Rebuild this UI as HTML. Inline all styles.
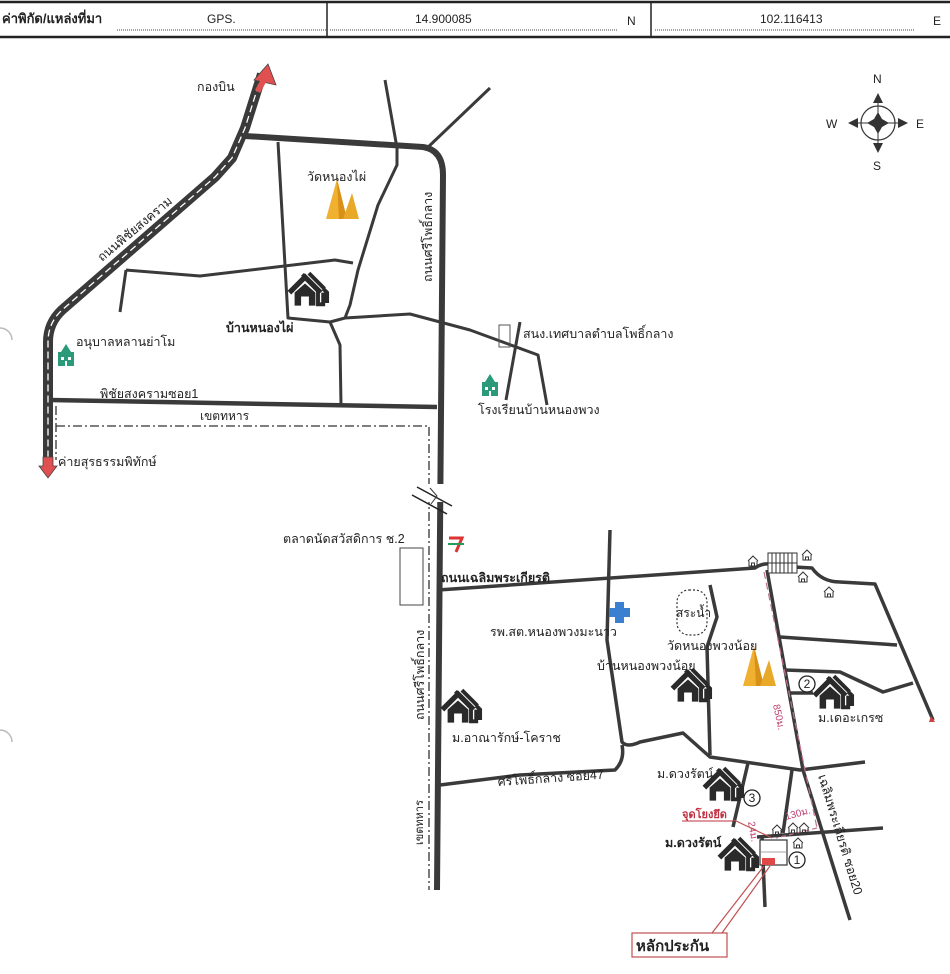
<!DOCTYPE html>
<html><head><meta charset="utf-8"><style>
html,body{margin:0;padding:0;background:#fff;}
svg{display:block;}
text{font-family:"Liberation Sans","Noto Sans CJK SC",sans-serif;fill:#222;}
</style></head><body>
<svg width="950" height="974" viewBox="0 0 950 974" xmlns="http://www.w3.org/2000/svg">
<defs>
<g id="house0">
 <path d="M-12,2 L0,-10 L12,2" fill="none" stroke="#2a2a2a" stroke-width="4"/>
 <path d="M-8,2 L-8,12 L-3,12 L-3,5 L3,5 L3,12 L8,12 L8,2 L0,-5 Z" fill="#2a2a2a"/>
 <path d="M-2,-12 L10,0 M3,-13 L15,-1" fill="none" stroke="#2a2a2a" stroke-width="3"/>
 <path d="M10,0 L10,11 L14,11 L14,2 M14,-1 L17,2 L17,10" fill="none" stroke="#2a2a2a" stroke-width="3"/>
</g>
<g id="house"><use href="#house0" transform="scale(1.3)"/></g>
<g id="small">
 <path d="M-5,0 L0,-5 L5,0 M-4,0 L-4,5 L4,5 L4,0 M-1.5,5 L-1.5,2 L1.5,2 L1.5,5" fill="none" stroke="#333" stroke-width="1"/>
</g>
<g id="temple">
 <path d="M-14,14 L-3,-26 L7,14 Z" fill="#f0b030"/>
 <path d="M-3,-26 L7,14 L-1,14 Z" fill="#d89018"/>
 <path d="M3,14 L12,-12 L19,14 Z" fill="#e8a828"/>
</g>
<g id="school">
 <rect x="-8" y="-4" width="16" height="14" fill="#2a9a7a"/>
 <path d="M-5,-4 L0,-12 L5,-4Z" fill="#2a9a7a"/>
 <rect x="-5" y="1" width="3" height="3" fill="#fff"/><rect x="2" y="1" width="3" height="3" fill="#fff"/>
 <rect x="-1" y="5" width="2" height="5" fill="#fff"/>
</g>
</defs>

<line x1="0" y1="2" x2="950" y2="2" stroke="#222" stroke-width="2.5"/>
<line x1="0" y1="37" x2="950" y2="37" stroke="#222" stroke-width="2.5"/>
<line x1="327" y1="2" x2="327" y2="37" stroke="#222" stroke-width="1.5"/>
<line x1="651" y1="2" x2="651" y2="37" stroke="#222" stroke-width="1.5"/>
<text x="2" y="23" font-size="13" font-weight="bold">ค่าพิกัด/แหล่งที่มา</text>
<text x="207" y="23" font-size="12">GPS.</text>
<text x="415" y="23" font-size="12">14.900085</text>
<text x="627" y="25" font-size="12">N</text>
<text x="760" y="23" font-size="12">102.116413</text>
<text x="933" y="25" font-size="12">E</text>
<g stroke="#444" stroke-width="1" stroke-dasharray="1,1">
<line x1="117" y1="30" x2="326" y2="30"/><line x1="330" y1="30" x2="617" y2="30"/><line x1="655" y1="30" x2="915" y2="30"/>
</g>

<g transform="translate(878,123)">
 <circle r="17" fill="none" stroke="#333" stroke-width="1.2"/>
 <line x1="-28" y1="0" x2="28" y2="0" stroke="#333"/><line x1="0" y1="-28" x2="0" y2="28" stroke="#333"/>
 <path d="M0,-11 L4,-4 L11,0 L4,4 L0,11 L-4,4 L-11,0 L-4,-4Z" fill="#333"/>
 <path d="M0,-30 L-5,-20 L5,-20Z M0,30 L-5,20 L5,20Z M-30,0 L-20,-5 L-20,5Z M30,0 L20,-5 L20,5Z" fill="#333"/>
</g>
<text x="873" y="83" font-size="12">N</text>
<text x="873" y="170" font-size="12">S</text>
<text x="826" y="128" font-size="12">W</text>
<text x="916" y="128" font-size="12">E</text>

<g fill="none" stroke="#3a3a3a" stroke-width="3" stroke-linejoin="round">
 <path d="M385,80 L397,148 L397,165 L378,205 L358,270 L350,305 L345,318"/>
 <path d="M278,142 L288,318 L330,322 L345,318 L410,314 L470,330 L538,355 L547,405"/>
 <path d="M330,322 L340,345 L341,405"/>
 <path d="M126,270 L200,276 L335,260 L353,263"/>
 <path d="M126,270 L120,312"/>
 <path d="M425,150 L490,88"/>
 <path d="M520,322 L506,400"/>
</g>
<rect x="499" y="325" width="11" height="22" fill="none" stroke="#555" stroke-width="1"/>
<path d="M50,400 L437,407" stroke="#3a3a3a" stroke-width="4.5" fill="none"/>
<path d="M56,406 L56,460 M56,426 L429,426 L429,890" fill="none" stroke="#333" stroke-width="1.3" stroke-dasharray="9,3,2,3"/>

<path d="M262,74 L245,128 L232,158 L215,177 L62,310 Q48,323 48,342 L48,462" fill="none" stroke="#3a3a3a" stroke-width="10" stroke-linejoin="round"/>
<path d="M262,74 L245,128 L232,158 L215,177 L62,310 Q48,323 48,342 L48,462" fill="none" stroke="#fff" stroke-width="1.3" stroke-dasharray="7,4"/>
<path d="M268,64 L276,85 L254,80Z" fill="#e05050" stroke="#444" stroke-width="0.8"/>
<path d="M255,90 L265,72 L270,75 L260,93Z" fill="#e05050"/>
<path d="M43,457 L53,457 L53,466 L57,466 L48,478 L39,466 L43,466Z" fill="#e05050" stroke="#444" stroke-width="0.8"/>

<path d="M245,136 L423,147 Q443,150 443,175 L437,890" fill="none" stroke="#3a3a3a" stroke-width="6" stroke-linejoin="round"/>
<rect x="425" y="484" width="24" height="18" fill="#fff"/>
<path d="M417,487 L452,506 M412,495 L447,514" stroke="#222" stroke-width="1.5"/>
<path d="M430,488 L437,496 L431,504" fill="none" stroke="#333" stroke-width="1"/>

<g fill="none" stroke="#3a3a3a" stroke-width="3.5" stroke-linejoin="round">
 <path d="M438,590 L755,568 Q765,561 776,566 L812,568 Q822,582 840,582 L875,584 L933,720"/>
 <path d="M610,530 L607,640 L622,742 Q627,748 640,742 L683,733 L710,757 L800,770 L865,762"/>
 <path d="M440,785 L520,775 L615,770 Q625,760 622,745"/>
 <path d="M710,585 L717,617 L707,647 L710,755"/>
 <path d="M767,570 L803,770 L850,920"/>
 <path d="M780,637 L897,645"/>
 <path d="M785,670 L840,672 L883,692 L913,683"/>
 <path d="M790,693 L813,693"/>
 <path d="M748,763 L733,827"/>
 <path d="M792,770 L783,833"/>
 <path d="M757,837 L883,828"/>
 <path d="M762,837 L765,907"/>
</g>
<path d="M931,716 L935,722 L929,722Z" fill="#d04040"/>

<rect x="760" y="840" width="27" height="25" fill="#fff" stroke="#333" stroke-width="1.2"/>
<line x1="760" y1="852" x2="787" y2="852" stroke="#888" stroke-width="0.8"/>
<rect x="762" y="858" width="13" height="7" fill="#e04848"/>
<rect x="768" y="553" width="29" height="20" fill="#fff" stroke="#333"/>
<path d="M772,553 v20 M776,553 v20 M780,553 v20 M784,553 v20 M788,553 v20 M792,553 v20" stroke="#333" stroke-width="1"/>
<line x1="768" y1="563" x2="797" y2="563" stroke="#333"/>

<path d="M764,572 L817,828" fill="none" stroke="#c07090" stroke-width="1.2" stroke-dasharray="7,4"/>
<path d="M817,828 L776,838" fill="none" stroke="#c07090" stroke-width="1.2" stroke-dasharray="5,3"/>
<text transform="translate(773,705) rotate(78)" font-size="10" style="fill:#c04070">850ม.</text>
<text x="786" y="820" font-size="10" style="fill:#c04070" transform="rotate(-15 786 820)">130ม.</text>
<text transform="translate(748,822) rotate(80)" font-size="10" style="fill:#c04070">24ม.</text>
<text x="682" y="818" font-size="11" font-weight="bold" style="fill:#c03040">จุดโยงยึด</text>
<line x1="682" y1="821" x2="734" y2="821" stroke="#c03040" stroke-width="1"/>
<path d="M734,820 L772,838" stroke="#c05050" stroke-width="1.2"/>
<path d="M764,866 L712,933 M770,866 L722,933" stroke="#c05050" stroke-width="1.2"/>
<rect x="632" y="933" width="95" height="24" fill="#fff" stroke="#c05050" stroke-width="1.2"/>
<text x="636" y="951" font-size="15" font-weight="bold">หลักประกัน</text>

<g font-size="12" text-anchor="middle">
<circle cx="797" cy="860" r="8" fill="#fff" stroke="#222" stroke-width="1.3"/><text x="797" y="864">1</text>
<circle cx="807" cy="684" r="8" fill="#fff" stroke="#222" stroke-width="1.3"/><text x="807" y="688">2</text>
<circle cx="752" cy="798" r="8" fill="#fff" stroke="#222" stroke-width="1.3"/><text x="752" y="802">3</text>
</g>

<rect x="677" y="590" width="30" height="45" rx="12" fill="none" stroke="#333" stroke-width="1.2" stroke-dasharray="2,2"/>
<text x="676" y="617" font-size="12">สระน้ำ</text>

<use href="#house" x="305" y="290"/>
<use href="#house" x="458" y="707"/>
<use href="#house" x="688" y="686"/>
<use href="#house" x="830" y="693"/>
<use href="#house" x="720" y="785"/>
<use href="#house" x="735" y="855"/>
<use href="#temple" x="340" y="205"/>
<use href="#temple" x="757" y="672"/>
<use href="#school" x="66" y="356"/>
<use href="#school" x="490" y="386"/>
<use href="#small" x="753" y="561"/><use href="#small" x="807" y="555"/><use href="#small" x="803" y="577"/>
<use href="#small" x="829" y="592"/><use href="#small" x="777" y="830"/><use href="#small" x="793" y="828"/>
<use href="#small" x="804" y="828"/><use href="#small" x="798" y="843"/>
<path d="M615,602 h9 v6 h6 v9 h-6 v6 h-9 v-6 h-6 v-9 h6z" fill="#3a7fd0"/>
<rect x="449" y="537" width="14" height="16" fill="#fff"/>
<path d="M449,538 h13 l-6,14" fill="none" stroke="#d33" stroke-width="3"/>
<line x1="448" y1="544" x2="464" y2="544" stroke="#2a9a5a" stroke-width="2"/>
<rect x="400" y="548" width="23" height="57" fill="none" stroke="#444" stroke-width="1"/>

<g font-size="12.5">
<text x="197" y="91">กองบิน</text>
<text x="307" y="181">วัดหนองไผ่</text>
<text x="226" y="332" font-weight="bold">บ้านหนองไผ่</text>
<text transform="translate(102,262) rotate(-40)">ถนนพิชัยสงคราม</text>
<text transform="translate(432,282) rotate(-90)">ถนนศรีโพธิ์กลาง</text>
<text x="76" y="346">อนุบาลหลานย่าโม</text>
<text x="100" y="398">พิชัยสงครามซอย1</text>
<text x="200" y="420" font-size="12">เขตทหาร</text>
<text x="58" y="466">ค่ายสุรธรรมพิทักษ์</text>
<text x="523" y="338">สนง.เทศบาลตำบลโพธิ์กลาง</text>
<text x="478" y="414">โรงเรียนบ้านหนองพวง</text>
<text x="283" y="543">ตลาดนัดสวัสดิการ ช.2</text>
<text x="441" y="582" font-weight="bold">ถนนเฉลิมพระเกียรติ</text>
<text transform="translate(424,720) rotate(-90)">ถนนศรีโพธิ์กลาง</text>
<text transform="translate(423,845) rotate(-90)" font-size="11">เขตทหาร</text>
<text x="452" y="742">ม.อาณารักษ์-โคราช</text>
<text x="498" y="786" transform="rotate(-4 498 786)">ศรีโพธิ์กลาง ซอย47</text>
<text x="490" y="636">รพ.สต.หนองพวงมะนาว</text>
<text x="667" y="650">วัดหนองพวงน้อย</text>
<text x="597" y="670">บ้านหนองพวงน้อย</text>
<text x="818" y="722">ม.เดอะเกรซ</text>
<text x="657" y="778">ม.ดวงรัตน์</text>
<text x="665" y="847" font-weight="bold">ม.ดวงรัตน์</text>
<text transform="translate(818,776) rotate(73)">เฉลิมพระเกียรติ ซอย20</text>
</g>
<path d="M0,328 A12,12 0 0 1 12,340" fill="none" stroke="#bbb" stroke-width="1.5"/>
<path d="M0,730 A12,12 0 0 1 12,742" fill="none" stroke="#bbb" stroke-width="1.5"/>
</svg>
</body></html>
